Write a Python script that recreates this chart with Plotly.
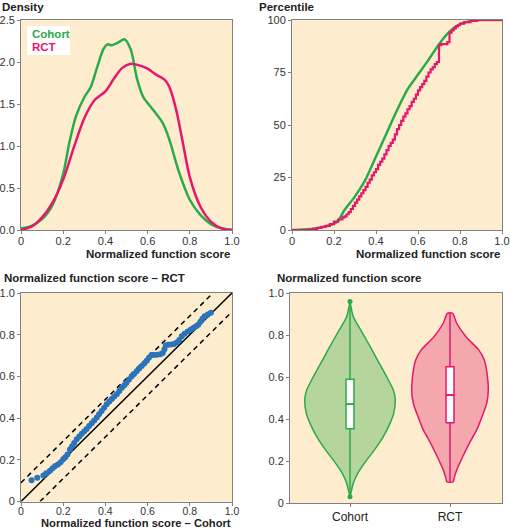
import plotly.graph_objects as go

# ---------------- data ----------------
dens_x_cohort = [0, 0.05, 0.1, 0.15, 0.2, 0.23, 0.26, 0.3, 0.33, 0.36, 0.39, 0.41, 0.43, 0.46, 0.49,
                 0.52, 0.55, 0.58, 0.62, 0.67, 0.7, 0.75, 0.8, 0.85, 0.9, 0.95, 1.0]
dens_y_cohort = [0.02, 0.05, 0.13, 0.3, 0.67, 1.05, 1.35, 1.58, 1.7, 1.93, 2.15, 2.21, 2.2, 2.23, 2.27,
                 2.15, 1.8, 1.58, 1.45, 1.28, 1.1, 0.68, 0.36, 0.18, 0.07, 0.02, 0.0]
dens_x_rct = [0, 0.05, 0.1, 0.15, 0.2, 0.25, 0.3, 0.35, 0.4, 0.44, 0.48, 0.52, 0.56, 0.6, 0.64,
              0.68, 0.7, 0.72, 0.74, 0.77, 0.8, 0.85, 0.9, 0.95, 1.0]
dens_y_rct = [0.0, 0.04, 0.15, 0.33, 0.6, 0.98, 1.33, 1.55, 1.65, 1.8, 1.93, 1.98, 1.96, 1.92, 1.85,
              1.79, 1.72, 1.58, 1.38, 1.0, 0.63, 0.28, 0.1, 0.02, 0.0]

cdf_x_cohort = [0, 0.05, 0.1, 0.15, 0.2, 0.22, 0.25, 0.3, 0.35, 0.4, 0.45, 0.5, 0.55, 0.6, 0.65,
                0.7, 0.75, 0.8, 0.85, 0.9, 1.0]
cdf_p_cohort = [0, 0.2, 0.6, 1.5, 3.0, 4.5, 9.5, 16, 24, 35, 46, 57, 67, 74, 81,
                88.5, 94.5, 98, 99.5, 100, 100]
cdf_x_rct = [0, 0.05, 0.08, 0.1, 0.12, 0.14, 0.16, 0.18, 0.2, 0.22,
             0.24, 0.25, 0.26, 0.27, 0.28, 0.29, 0.30, 0.31, 0.32, 0.33, 0.34, 0.35, 0.36, 0.37,
             0.38, 0.39, 0.40, 0.41, 0.42, 0.43, 0.44, 0.45, 0.46, 0.47, 0.48, 0.49, 0.50, 0.51,
             0.52, 0.53, 0.54, 0.55, 0.56, 0.57, 0.58, 0.59, 0.60, 0.61, 0.62, 0.63, 0.64, 0.65,
             0.66, 0.67, 0.68, 0.69, 0.70, 0.71, 0.72, 0.73, 0.74, 0.75, 0.76, 0.77, 0.78, 0.79,
             0.80, 0.82, 0.85, 0.88, 1.0]
cdf_p_rct = [0, 0, 0.2, 0.5, 1, 1.5, 2, 2.8, 4, 5,
             6, 6.5, 7.5, 8.5, 10, 11.5, 13, 14.5, 16, 17.5, 19, 20.5, 22.5, 24,
             26, 27.5, 29, 31, 32.5, 34, 36, 38, 40, 41.5, 43, 45.5, 48, 50,
             52, 54, 55.5, 57.5, 59, 61, 62.5, 64.5, 66.5, 68, 69.5, 71, 73, 75,
             76.5, 77.5, 79, 80, 88, 88.5, 88.5, 88.5, 89.5, 94, 95, 96, 97, 97.5,
             98.3, 99, 99.6, 100, 100]

qq_cohort = [0.05, 0.077, 0.106, 0.12, 0.137, 0.15, 0.162, 0.175, 0.188, 0.2, 0.21, 0.22, 0.232,
             0.242, 0.252, 0.264, 0.276, 0.288, 0.3, 0.311, 0.323, 0.335, 0.347, 0.359, 0.37,
             0.382, 0.394, 0.406, 0.418, 0.43, 0.442, 0.454, 0.466, 0.478, 0.49, 0.5, 0.512,
             0.524, 0.536, 0.548, 0.56, 0.572, 0.584, 0.596, 0.606, 0.618, 0.63, 0.645, 0.66,
             0.672, 0.68, 0.686, 0.698, 0.712, 0.725, 0.738, 0.75, 0.762, 0.775, 0.79, 0.805,
             0.818, 0.83, 0.84, 0.85, 0.86, 0.87, 0.885, 0.9]
qq_rct = [0.102, 0.114, 0.125, 0.135, 0.148, 0.16, 0.17, 0.178, 0.188, 0.203, 0.212, 0.225, 0.25,
          0.265, 0.28, 0.298, 0.312, 0.325, 0.337, 0.348, 0.362, 0.375, 0.389, 0.403, 0.418,
          0.434, 0.45, 0.467, 0.48, 0.492, 0.503, 0.514, 0.53, 0.545, 0.558, 0.57, 0.585,
          0.6, 0.612, 0.625, 0.638, 0.65, 0.662, 0.675, 0.69, 0.703, 0.703, 0.704, 0.706,
          0.712, 0.73, 0.75, 0.752, 0.753, 0.755, 0.762, 0.775, 0.792, 0.805, 0.815, 0.825,
          0.833, 0.84, 0.848, 0.862, 0.877, 0.888, 0.897, 0.905]
qq_band = 0.09

groups = ["Cohort", "RCT"]
violin_y_cohort = [0.959, 0.93, 0.887, 0.808, 0.729, 0.665, 0.601, 0.538, 0.49, 0.427, 0.379,
                   0.316, 0.252, 0.189, 0.141, 0.094, 0.06, 0.03]
violin_w_cohort = [0.0, 0.012, 0.033, 0.127, 0.22, 0.293, 0.367, 0.433, 0.453, 0.437, 0.40,
                   0.333, 0.243, 0.143, 0.077, 0.033, 0.015, 0.0]
violin_y_rct = [0.903, 0.856, 0.792, 0.729, 0.681, 0.618, 0.538, 0.475, 0.411, 0.348, 0.284,
                0.22, 0.157, 0.11, 0.101]
violin_w_rct = [0.027, 0.067, 0.16, 0.287, 0.343, 0.37, 0.383, 0.367, 0.32, 0.267, 0.193,
                0.127, 0.067, 0.037, 0.033]
# min, q1, median, q3, max
box_cohort = [0.03, 0.354, 0.471, 0.589, 0.959]
box_rct = [0.101, 0.382, 0.514, 0.649, 0.903]

# ---------------- style ----------------
GREEN = "#2BAA4A"
PINK = "#E5176D"
GREEN_FILL = "#B6D59C"
PINK_FILL = "#F4A8AD"
BLUE = "#2A74BA"
BG = "#FDECCD"
AX = "#808080"
FONT = "Liberation Sans, Arial, sans-serif"
W, H = 510, 529

fig = go.Figure()

# Density
fig.add_trace(go.Scatter(x=dens_x_cohort, y=dens_y_cohort, mode="lines", name="Cohort",
                         line=dict(color=GREEN, width=2.5, shape="spline", smoothing=0.8),
                         xaxis="x", yaxis="y"))
fig.add_trace(go.Scatter(x=dens_x_rct, y=dens_y_rct, mode="lines", name="RCT",
                         line=dict(color=PINK, width=2.5, shape="spline", smoothing=0.8),
                         xaxis="x", yaxis="y"))
# CDF
fig.add_trace(go.Scatter(x=cdf_x_cohort, y=cdf_p_cohort, mode="lines", name="Cohort",
                         line=dict(color=GREEN, width=2.5, shape="spline", smoothing=0.6),
                         xaxis="x2", yaxis="y2"))
fig.add_trace(go.Scatter(x=cdf_x_rct, y=cdf_p_rct, mode="lines", name="RCT",
                         line=dict(color=PINK, width=2.2, shape="hv"),
                         xaxis="x2", yaxis="y2"))
# QQ
fig.add_trace(go.Scatter(x=[0, 1], y=[0, 1], mode="lines", line=dict(color="black", width=1.5),
                         xaxis="x3", yaxis="y3"))
fig.add_trace(go.Scatter(x=[0, 1 - qq_band], y=[qq_band, 1], mode="lines",
                         line=dict(color="black", width=1.5, dash="5px,4px"), xaxis="x3", yaxis="y3"))
fig.add_trace(go.Scatter(x=[qq_band, 1], y=[0, 1 - qq_band], mode="lines",
                         line=dict(color="black", width=1.5, dash="5px,4px"), xaxis="x3", yaxis="y3"))
fig.add_trace(go.Scatter(x=qq_cohort, y=qq_rct, mode="markers",
                         marker=dict(color=BLUE, size=6), xaxis="x3", yaxis="y3"))

# Violins
def violin(center, ys, ws, box, line_c, fill_c, end_dots):
    xs = [center + w for w in ws] + [center - w for w in reversed(ws)]
    yy = list(ys) + list(reversed(ys))
    xs.append(xs[0]); yy.append(yy[0])
    fig.add_trace(go.Scatter(x=xs, y=yy, mode="lines", fill="toself", fillcolor=fill_c,
                             line=dict(color=line_c, width=1.5, shape="spline", smoothing=0.7),
                             xaxis="x4", yaxis="y4"))
    fig.add_trace(go.Scatter(x=[center, center], y=[box[0], box[4]], mode="lines",
                             line=dict(color=line_c, width=1.5), xaxis="x4", yaxis="y4"))
    if end_dots:
        fig.add_trace(go.Scatter(x=[center, center], y=[box[0], box[4]], mode="markers",
                                 marker=dict(color=line_c, size=5), xaxis="x4", yaxis="y4"))
    hw = 0.04
    fig.add_trace(go.Scatter(x=[center - hw, center + hw, center + hw, center - hw, center - hw],
                             y=[box[1], box[1], box[3], box[3], box[1]], mode="lines",
                             fill="toself", fillcolor="white",
                             line=dict(color=line_c, width=1.5), xaxis="x4", yaxis="y4"))
    fig.add_trace(go.Scatter(x=[center - hw, center + hw], y=[box[2], box[2]], mode="lines",
                             line=dict(color=line_c, width=2), xaxis="x4", yaxis="y4"))

violin(0, violin_y_cohort, violin_w_cohort, box_cohort, GREEN, GREEN_FILL, True)
violin(1, violin_y_rct, violin_w_rct, box_rct, PINK, PINK_FILL, False)

# ---------------- layout ----------------
def px_dom_x(a, b):
    return [a / W, b / W]

def px_dom_y(top, bottom):
    return [1 - bottom / H, 1 - top / H]

tickfont = dict(family=FONT, size=11, color="#333333")

def axis(dom, rng, tickvals, ticktext, anchor, tf=tickfont, standoff=None):
    d = dict(domain=dom, range=rng, tickmode="array", tickvals=tickvals, ticktext=ticktext,
             showgrid=False, zeroline=False, showline=True, mirror=True, linecolor=AX,
             linewidth=1, ticks="outside", ticklen=3, tickcolor=AX, tickfont=tf,
             anchor=anchor, automargin=False, fixedrange=True)
    if standoff is not None:
        d["ticklabelstandoff"] = standoff
    return d

t01 = [0, 0.2, 0.4, 0.6, 0.8, 1.0]
t01_txt = ["0", "0.2", "0.4", "0.6", "0.8", "1.0"]

fig.update_layout(
    width=W, height=H, margin=dict(l=0, r=0, t=0, b=0),
    paper_bgcolor="white", plot_bgcolor=BG, showlegend=False,
    font=dict(family=FONT, color="#222222"),
    xaxis=axis(px_dom_x(21, 232), [0, 1], t01, t01_txt, "y", standoff=-2),
    yaxis=axis(px_dom_y(20, 230), [0, 2.5], [0, 0.5, 1, 1.5, 2, 2.5],
               ["0.0", "0.5", "1.0", "1.5", "2.0", "2.5"], "x"),
    xaxis2=axis(px_dom_x(292, 502), [0, 1], t01, t01_txt, "y2", standoff=-2),
    yaxis2=axis(px_dom_y(20, 230), [0, 100], [0, 25, 50, 75, 100],
                ["0", "25", "50", "75", "100"], "x2"),
    xaxis3=axis(px_dom_x(21, 232), [0, 1], t01, t01_txt, "y3",
                tf=dict(family=FONT, size=10.5, color="#333333"), standoff=-3),
    yaxis3=axis(px_dom_y(293, 501.5), [0, 1], t01, t01_txt, "x3"),
    xaxis4=axis(px_dom_x(290, 502), [-0.6, 1.52], [0, 1], groups, "y4",
                tf=dict(family=FONT, size=12, color="#222222")),
    yaxis4=axis(px_dom_y(293, 503), [0, 1], t01, t01_txt, "x4"),
)

def label(text, x_px, y_px, anchor="left", color="#222222", size=11.5, yanchor="middle", pad=1):
    fig.add_annotation(text="<b>" + text + "</b>", x=x_px / W, y=1 - y_px / H,
                       xref="paper", yref="paper", xanchor=anchor, yanchor=yanchor,
                       borderpad=pad, showarrow=False,
                       font=dict(family=FONT, size=size, color=color))

label("Density", 0, 7)
label("Percentile", 257, 7)
label("Normalized function score", 232, 254, anchor="right")
label("Normalized function score", 502, 254, anchor="right")
label("Normalized function score – RCT", 2, 278)
label("Normalized function score", 275, 278)
label("Normalized function score – Cohort", 232, 530, anchor="right", yanchor="bottom",
      pad=0, size=11.2)

# legend box
fig.add_shape(type="rect", xref="paper", yref="paper", x0=27 / W, x1=70 / W,
              y0=1 - 55 / H, y1=1 - 26 / H, fillcolor="white", line=dict(width=0), layer="above")
label("Cohort", 30, 33.5, color=GREEN)
label("RCT", 30, 47.5, color=PINK)

fig.write_html("out.html", config={"displayModeBar": False},
               post_script="document.body.style.margin='0';document.body.style.overflow='hidden';")
